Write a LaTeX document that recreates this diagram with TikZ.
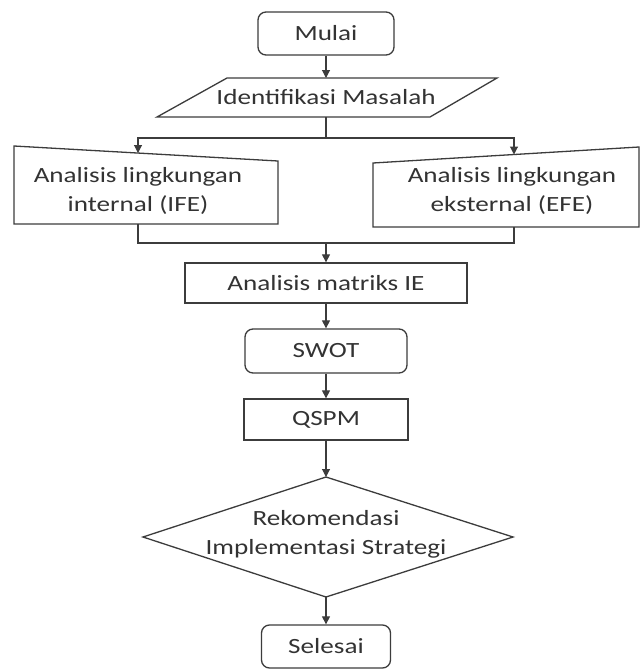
\documentclass[tikz,border=0pt]{standalone}
\usepackage{fontspec}
\setmainfont{Carlito}[FakeStretch=1.25]
\usetikzlibrary{arrows.meta}
\definecolor{lncol}{HTML}{3C3C3C}
\definecolor{txcol}{HTML}{333333}
\begin{document}
\begin{tikzpicture}[x=1pt,y=-1pt,
  shp/.style={draw=lncol,line width=1.3pt,fill=white},
  txt/.style={text=txcol,font=\fontsize{21.7pt}{29pt}\selectfont,align=center,inner sep=0pt},
  boxr/.style={shp,txt,rounded corners=8pt},
  boxs/.style={shp,txt},
  arr/.style={draw=lncol,line width=1.1pt,-{Triangle[length=8pt,width=8pt]}},
  conn/.style={draw=lncol,line width=1.1pt}]
\useasboundingbox (0,0) rectangle (642,670);
% Mulai
\node[boxr,minimum width=136pt,minimum height=43pt] (mulai) at (326,33.5) {Mulai};
% Identifikasi Masalah (parallelogram)
\draw[shp] (227,78) -- (497,78) -- (430,117) -- (157,117) -- cycle;
\coordinate (idtop) at (326,78);
\coordinate (idbot) at (326,117);
\node[txt] (id) at (326,97) {Identifikasi Masalah};
% IFE (manual input)
\draw[shp] (14,146) -- (278,161) -- (278,224) -- (14,224) -- cycle;
\coordinate (ifetop) at (138,153);
\coordinate (ifebot) at (138,224);
\node[txt] (ife) at (138,191) {Analisis lingkungan\\internal (IFE)};
% EFE (manual input)
\draw[shp] (373,163) -- (639,147) -- (639,227) -- (373,227) -- cycle;
\coordinate (efetop) at (514,154.5);
\coordinate (efebot) at (514,227);
\node[txt] (efe) at (512,191) {Analisis lingkungan\\eksternal (EFE)};
% IE
\node[boxs,minimum width=282pt,minimum height=40pt] (ie) at (326,283) {Analisis matriks IE};
% SWOT
\node[boxr,minimum width=162pt,minimum height=44pt] (swot) at (326,351) {SWOT};
% QSPM
\node[boxs,minimum width=164pt,minimum height=41pt] (qspm) at (326,419.5) {QSPM};
% Diamond
\draw[shp] (326,477) -- (513,537) -- (326,597) -- (143,537) -- cycle;
\coordinate (dtop) at (326,477);
\coordinate (dbot) at (326,597);
\node[txt] (rek) at (326,534) {Rekomendasi\\Implementasi Strategi};
% Selesai
\node[boxr,minimum width=129pt,minimum height=43pt] (selesai) at (326,646.5) {Selesai};
% connectors
\coordinate (split) at (326,138);
\coordinate (join) at (326,243);
\draw[arr] (mulai) -- (idtop);
\draw[conn] (idbot) -- (split);
\draw[arr] (split) -| (ifetop);
\draw[arr] (split) -| (efetop);
\draw[conn] (ifebot) -- (ifebot |- join) -- (efebot |- join) -- (efebot);
\draw[arr] (join) -- (ie);
\draw[arr] (ie) -- (swot);
\draw[arr] (swot) -- (qspm);
\draw[arr] (qspm) -- (dtop);
\draw[arr] (dbot) -- (selesai);
\end{tikzpicture}
\end{document}
